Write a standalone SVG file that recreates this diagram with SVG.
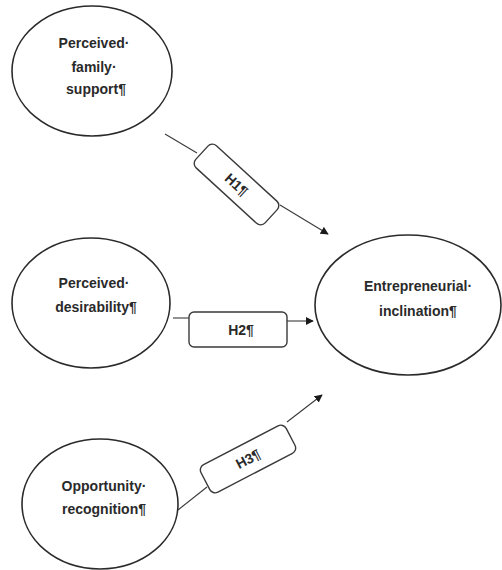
<svg xmlns="http://www.w3.org/2000/svg" width="502" height="570" viewBox="0 0 502 570">
<style>
.node ellipse{fill:#fff;stroke:#2a2a2a;stroke-width:1.6}
.lbl{font-family:"Liberation Sans",Arial,sans-serif;font-weight:bold;font-size:14px;fill:#2a2a2a;text-anchor:middle}
.box{fill:#fff;stroke:#3a3a3a;stroke-width:1.4}
.conn{fill:none;stroke:#3a3a3a;stroke-width:1.1}
</style>
<defs>
<marker id="arr" viewBox="0 0 10 10" refX="9" refY="5" markerWidth="8" markerHeight="8" markerUnits="userSpaceOnUse" orient="auto">
<path d="M0,0 L10,5 L0,10 Z" fill="#1a1a1a"/>
</marker>
</defs>
<rect width="502" height="570" fill="#fff"/>
<g id="connectors">
<g id="h1">
<line class="conn" x1="165" y1="134" x2="197" y2="153"/>
<line class="conn" x1="280" y1="205" x2="328" y2="234" marker-end="url(#arr)"/>
<g transform="translate(236.5,184.5) rotate(42.5)">
<rect class="box" x="-47" y="-15" width="94" height="30" rx="6"/>
<text class="lbl" x="0" y="5">H1¶</text>
</g>
</g>
<g id="h2">
<line class="conn" x1="173" y1="318" x2="189" y2="318"/>
<line class="conn" x1="287" y1="321" x2="313" y2="321" marker-end="url(#arr)"/>
<rect class="box" x="189" y="312" width="98" height="35" rx="5"/>
<text class="lbl" x="241" y="335">H2¶</text>
</g>
<g id="h3">
<line class="conn" x1="178" y1="510" x2="207" y2="487"/>
<line class="conn" x1="287" y1="422" x2="322" y2="395" marker-end="url(#arr)"/>
<g transform="translate(248,459) rotate(-27.5)">
<rect class="box" x="-48" y="-15.5" width="96" height="31" rx="6"/>
<text class="lbl" x="0" y="5">H3¶</text>
</g>
</g>
</g>
<g id="perceived-family-support" class="node">
<ellipse cx="92" cy="71" rx="80" ry="65"/>
<text class="lbl" x="94" y="48">Perceived·</text>
<text class="lbl" x="94" y="72">family·</text>
<text class="lbl" x="96" y="94">support¶</text>
</g>
<g id="perceived-desirability" class="node">
<ellipse cx="91" cy="303" rx="79" ry="65"/>
<text class="lbl" x="94" y="288">Perceived·</text>
<text class="lbl" x="96" y="312">desirability¶</text>
</g>
<g id="opportunity-recognition" class="node">
<ellipse cx="100" cy="504" rx="78" ry="65"/>
<text class="lbl" x="104" y="491">Opportunity·</text>
<text class="lbl" x="104" y="514">recognition¶</text>
</g>
<g id="entrepreneurial-inclination" class="node">
<ellipse cx="408" cy="305" rx="93" ry="70"/>
<text class="lbl" x="418" y="291">Entrepreneurial·</text>
<text class="lbl" x="418" y="316">inclination¶</text>
</g>
</svg>
